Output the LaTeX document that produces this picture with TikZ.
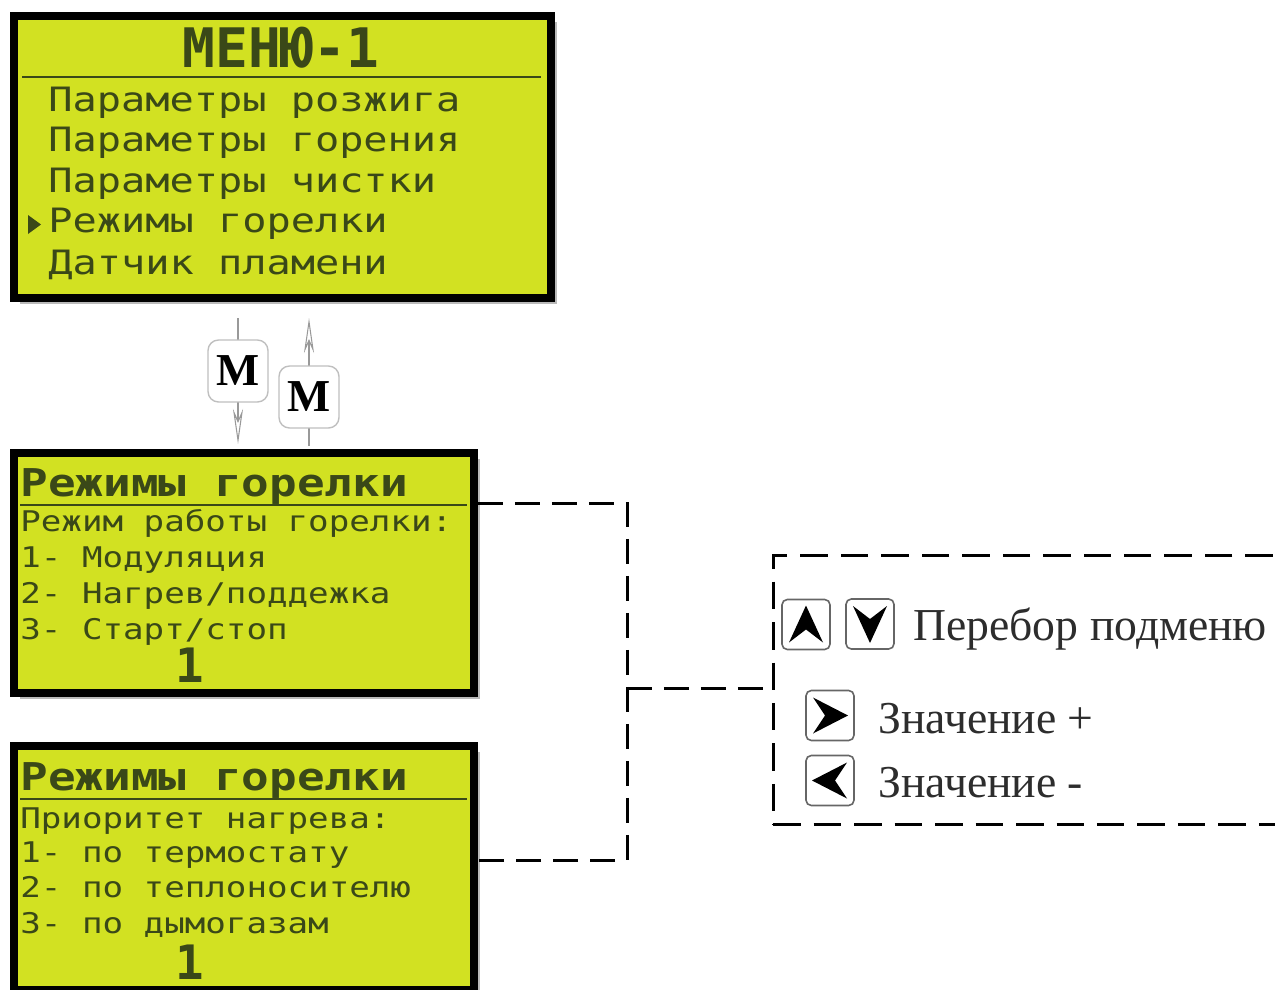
\documentclass[tikz,border=0pt]{standalone}
\usepackage{fontspec}
\setmainfont{Liberation Serif}
\newfontfamily\lcdfont[FakeStretch=1.2]{DejaVu Sans Mono}
\newfontfamily\lcdhead{DejaVu Sans Mono}
\usetikzlibrary{positioning,shadows,arrows.meta}
\definecolor{lcdyellow}{RGB}{210,225,34}
\definecolor{lcdink}{RGB}{58,72,24}
\definecolor{legendink}{RGB}{45,45,45}

\tikzset{
  screen/.style={draw=black,line width=0.16cm,fill=lcdyellow,inner sep=0pt,
    drop shadow={shadow xshift=0.12cm,shadow yshift=-0.12cm,fill=black!45,opacity=.6}},
  lcdline/.style={anchor=base west,inner sep=0pt,text=lcdink,
    font=\lcdfont\fontsize{16.2}{18}\selectfont},
  menuline/.style={lcdline,font=\lcdfont\fontsize{19.1}{21}\selectfont},
  lcdtitle/.style={lcdline,font=\lcdfont\bfseries\fontsize{21.8}{24}\selectfont},
  lcdvalue/.style={inner sep=0pt,text=lcdink,font=\lcdhead\bfseries\fontsize{27}{29}\selectfont},
  lcdrule/.style={draw=lcdink,line width=0.05cm},
  mbtn/.style={draw=black!25,rounded corners=6pt,fill=white,line width=0.8pt,
    minimum width=1.2cm,minimum height=1.24cm,inner sep=0pt,
    font=\bfseries\fontsize{26}{28}\selectfont},
  navarrow/.style={draw=black!40,line width=0.6pt,-{Stealth[length=0.7cm,width=0.2cm,open]}},
  keybtn/.style={draw=black!60,rounded corners=3pt,fill=white,line width=0.9pt,
    minimum width=0.96cm,minimum height=1.0cm,inner sep=0pt},
  keytext/.style={anchor=base west,inner sep=0pt,text=legendink,font=\fontsize{26}{28}\selectfont},
  legendbox/.style={draw=black,line width=0.06cm,dash pattern=on 0.55cm off 0.26cm,inner sep=0pt},
  dashlink/.style={draw=black,line width=0.06cm,dash pattern=on 0.5cm off 0.24cm}
}

\begin{document}
\begin{tikzpicture}[x=0.02cm,y=-0.02cm]
\clip (0,0) rectangle (1275,990);
\fill[white] (0,0) rectangle (1275,990);

% main menu screen
\node[screen,minimum width=10.74cm,minimum height=5.64cm] (menu) at (282.5,157) {};
\node[inner sep=0pt,text=lcdink,font=\lcdhead\bfseries\fontsize{31}{33}\selectfont]
  (menutitle) at (281,48) {МЕНЮ-1};
\draw[lcdrule] (22,77) -- (541,77);
\node[menuline] (m1) at (48,112) {Параметры розжига};
\node[menuline] (m2) at (48,152) {Параметры горения};
\node[menuline] (m3) at (48,193) {Параметры чистки};
\node[menuline] (m4) at (48,233) {Режимы горелки};
\node[menuline] (m5) at (48,274) {Датчик пламени};
\fill[lcdink] (28,215) -- (41,224.5) -- (28,234) -- cycle;

% M keys between screens
\coordinate (mdtail) at (238,318);
\coordinate (mdtip) at (238,444);
\coordinate (mutail) at (309,446);
\coordinate (mutip) at (309,318);
\draw[navarrow] (mdtail) -- (mdtip);
\draw[navarrow] (mutail) -- (mutip);
\node[mbtn] (mdown) at (238,371) {М};
\node[mbtn] (mup) at (309,397) {М};

% burner modes screen
\node[screen,minimum width=9.2cm,minimum height=4.8cm] (modes) at (244,573) {};
\node[lcdtitle] (modestitle) at (20,496) {Режимы горелки};
\draw[lcdrule] (20,505) -- (467,505);
\node[lcdline] (mo1) at (20,531) {Режим работы горелки:};
\node[lcdline] (mo2) at (20,567) {1- Модуляция};
\node[lcdline] (mo3) at (20,603) {2- Нагрев/поддежка};
\node[lcdline] (mo4) at (20,639) {3- Старт/стоп};
\node[lcdvalue] (moval) at (190,665) {1};

% heating priority screen
\node[screen,minimum width=9.2cm,minimum height=4.88cm] (prio) at (244,868) {};
\node[lcdtitle] (priotitle) at (20,790) {Режимы горелки};
\draw[lcdrule] (20,799) -- (467,799);
\node[lcdline] (pr1) at (20,828) {Приоритет нагрева:};
\node[lcdline] (pr2) at (20,862) {1- по термостату};
\node[lcdline] (pr3) at (20,897) {2- по теплоносителю};
\node[lcdline] (pr4) at (20,933) {3- по дымогазам};
\node[lcdvalue] (prval) at (190,962) {1};

% legend of keys
\node[legendbox,minimum width=10.4cm,minimum height=5.4cm] (legend) at (1033,690) {};
\node[keybtn] (kup) at (806,624.5) {};
\node[keybtn] (kdown) at (870,624) {};
\node[keybtn] (kright) at (830,715.5) {};
\node[keybtn] (kleft) at (830,780.5) {};
\fill[shift={(kup)}] (0,-19) -- (17,18) -- (0,5) -- (-17,18) -- cycle;
\fill[shift={(kdown)}] (0,19) -- (17,-18) -- (0,-5) -- (-17,-18) -- cycle;
\fill[shift={(kright)}] (18,0) -- (-17,-18) -- (-5,0) -- (-17,18) -- cycle;
\fill[shift={(kleft)}] (-18,0) -- (17,-18) -- (5,0) -- (17,18) -- cycle;
\node[keytext] (tsub) at (913,640) {Перебор подменю};
\node[keytext] (tplus) at (878,733) {Значение +};
\node[keytext] (tminus) at (878,797) {Значение -};

% dashed links
\coordinate (bustop) at (627,503);
\coordinate (busmid) at (627,688);
\coordinate (busbot) at (627,860);
\draw[dashlink] (modes.east |- bustop) -- (bustop) -- (busbot) -- (prio.east |- busbot);
\draw[dashlink] (busmid) -- (legend.west |- busmid);
\end{tikzpicture}
\end{document}
